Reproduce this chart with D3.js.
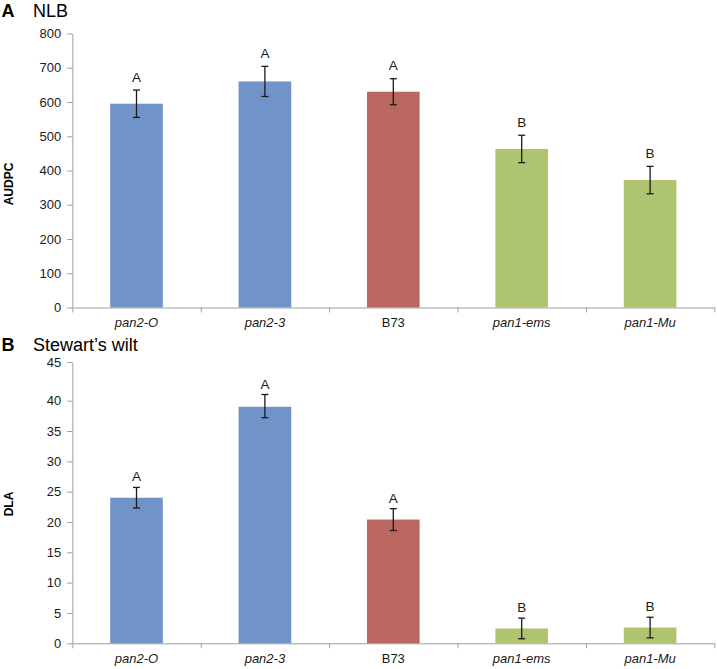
<!DOCTYPE html>
<html><head><meta charset="utf-8">
<script src="https://cdnjs.cloudflare.com/ajax/libs/d3/7.8.5/d3.min.js"></script>
<style>
html,body{margin:0;padding:0;background:#fff;}
svg{display:block;font-family:"Liberation Sans",Arial,sans-serif;}
</style></head>
<body>
<svg id="c" width="717" height="669"></svg>
<script>
// ---- data ----
const categories = ["pan2-O", "pan2-3", "B73", "pan1-ems", "pan1-Mu"];
const italicCategory = [true, true, false, true, true];
const barColors = ["#7094C7", "#7094C7", "#B96760", "#AFC470", "#AFC470"];

const nlbValues = [595, 660, 630, 463, 372];
const nlbErrors = [40, 44, 38, 40, 40];
const nlbLetters = ["A", "A", "A", "B", "B"];
const nlbTicks = [0, 100, 200, 300, 400, 500, 600, 700, 800];

const swValues = [24.0, 39.0, 20.4, 2.45, 2.6];
const swErrors = [1.7, 1.8, 1.8, 1.7, 1.7];
const swLetters = ["A", "A", "A", "B", "B"];
const swTicks = [0, 5, 10, 15, 20, 25, 30, 35, 40, 45];

const svg = d3.select("#c");
const left = 72.3, right = 714.3;
const axisColor = "#A0A0A0";

function panel(opts) {
  const g = svg.append("g");
  const y = d3.scaleLinear().domain(opts.yDomain).range(opts.yRange);
  const x = d3.scaleBand().domain(categories).range([left, right])
    .paddingInner(0.59).paddingOuter(0.295);
  const xb = d3.scaleLinear().domain([0, categories.length]).range([left, right]);
  const y0 = y(0);

  // panel title
  g.append("text").attr("x", 1.5).attr("y", opts.titleY)
    .attr("font-size", 18).attr("font-weight", "bold").attr("fill", "#000").text(opts.panelLetter);
  g.append("text").attr("x", 33).attr("y", opts.titleY)
    .attr("font-size", 18).attr("fill", "#000").text(opts.title);

  // y axis
  const ya = g.append("g").attr("transform", `translate(${left},0)`)
    .call(d3.axisLeft(y).tickValues(opts.ticks).tickSize(5).tickSizeOuter(0).tickPadding(6));
  ya.select(".domain").attr("stroke", axisColor);
  ya.selectAll(".tick line").attr("stroke", axisColor);
  ya.selectAll(".tick text").attr("font-size", 13).attr("fill", "#1a1a1a")
    .attr("font-family", "Liberation Sans, Arial, sans-serif");

  // y title
  g.append("text").attr("transform", `translate(12.5,${opts.yTitleCenter}) rotate(-90)`)
    .attr("text-anchor", "middle").attr("font-size", 12).attr("font-weight", "bold")
    .attr("fill", "#000").text(opts.yTitle);

  // x axis (ticks at category boundaries)
  const xa = g.append("g").attr("transform", `translate(0,${y0})`)
    .call(d3.axisBottom(xb).tickValues(d3.range(categories.length + 1)).tickSize(5)
      .tickSizeOuter(0).tickFormat(""));
  xa.select(".domain").attr("stroke", axisColor);
  xa.selectAll(".tick line").attr("stroke", axisColor);

  // category labels
  g.selectAll(".cat").data(categories).join("text")
    .attr("x", d => x(d) + x.bandwidth() / 2)
    .attr("y", y0 + 19.5)
    .attr("text-anchor", "middle").attr("font-size", 13).attr("fill", "#1a1a1a")
    .attr("font-style", (d, i) => italicCategory[i] ? "italic" : "normal")
    .text(d => d);

  // bars
  g.selectAll(".bar").data(categories).join("rect")
    .attr("x", d => x(d)).attr("width", x.bandwidth())
    .attr("y", (d, i) => y(opts.values[i]))
    .attr("height", (d, i) => y0 - y(opts.values[i]))
    .attr("fill", (d, i) => barColors[i]);

  // error bars
  const cap = 3.5;
  categories.forEach((d, i) => {
    const cx = x(d) + x.bandwidth() / 2;
    const top = y(opts.values[i] + opts.errors[i]);
    const bot = y(opts.values[i] - opts.errors[i]);
    const eb = g.append("g").attr("stroke", "#1a1a1a").attr("stroke-width", 1.3);
    eb.append("line").attr("x1", cx).attr("x2", cx).attr("y1", top).attr("y2", bot);
    eb.append("line").attr("x1", cx - cap).attr("x2", cx + cap).attr("y1", top).attr("y2", top);
    eb.append("line").attr("x1", cx - cap).attr("x2", cx + cap).attr("y1", bot).attr("y2", bot);
    g.append("text").attr("x", cx).attr("y", top - opts.letterGap)
      .attr("text-anchor", "middle").attr("font-size", 13.5).attr("fill", "#1a1a1a")
      .text(opts.letters[i]);
  });
}

panel({
  panelLetter: "A", title: "NLB", titleY: 16.5,
  yDomain: [0, 800], yRange: [307.5, 33.5], ticks: nlbTicks,
  yTitle: "AUDPC", yTitleCenter: 184,
  values: nlbValues, errors: nlbErrors, letters: nlbLetters, letterGap: 8.5
});

panel({
  panelLetter: "B", title: "Stewart\u2019s wilt", titleY: 350.5,
  yDomain: [0, 40, 45], yRange: [643.3, 400.7, 362], ticks: swTicks,
  yTitle: "DLA", yTitleCenter: 504,
  values: swValues, errors: swErrors, letters: swLetters, letterGap: 6
});
</script>
</body></html>
